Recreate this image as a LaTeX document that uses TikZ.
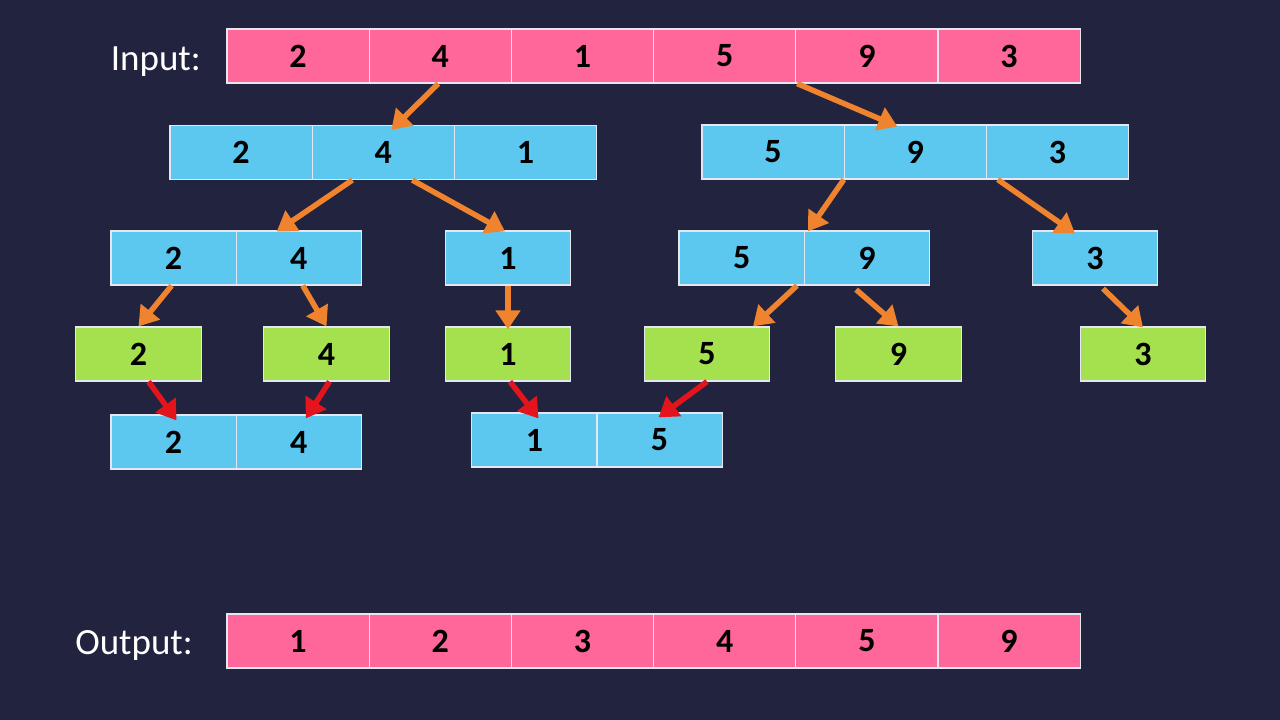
\documentclass[tikz,border=0pt]{standalone}
\usepackage{fontspec}
\setmainfont{Carlito}
\usetikzlibrary{arrows.meta}

\definecolor{msbg}{HTML}{22233F}
\definecolor{mspink}{HTML}{FF6699}
\definecolor{msblue}{HTML}{5CC8F0}
\definecolor{msgreen}{HTML}{A5E04F}
\definecolor{msorange}{HTML}{F0832E}
\definecolor{msred}{HTML}{E3141B}
\definecolor{msedge}{HTML}{E4E6F2}

\begin{document}
\begin{tikzpicture}[
  x=1pt, y=-1pt,
  cell/.style={
    draw=msedge,
    line width=1.2pt,
    inner sep=0pt,
    minimum height=54pt,
    text=black,
    font=\fontsize{34}{34}\selectfont\bfseries
  },
  widecell/.style={cell, minimum width=142.2pt},
  slimcell/.style={cell, minimum width=125.3pt},
  label/.style={
    anchor=east,
    inner sep=0pt,
    text=white,
    font=\fontsize{37}{37}\selectfont
  },
  split/.style={
    draw=msorange,
    line width=5.5pt,
    -{Triangle[length=19pt, width=24pt]}
  },
  merge/.style={split, draw=msred}
]

  \fill[msbg] (0,0) rectangle (1280,720);

  % --------------------------------------------------------------------
  % Input and output arrays
  % --------------------------------------------------------------------

  \node[label] (inlbl) at (201,62) {Input:};
  \node[label] (outlbl) at (193,645) {Output:};

  \foreach \v [count=\i] in {2,4,1,5,9,3}{
    \node[widecell, fill=mspink] (in\i) at ({298.1+142.2*(\i-1)},56) {\v};
  }

  \foreach \v [count=\i] in {1,2,3,4,5,9}{
    \node[widecell, fill=mspink] (out\i) at ({298.1+142.2*(\i-1)},641) {\v};
  }

  % --------------------------------------------------------------------
  % Split halves
  % --------------------------------------------------------------------

  \foreach \v [count=\i] in {2,4,1}{
    \node[widecell, fill=msblue] (lft\i) at ({241.1+142.2*(\i-1)},152.5) {\v};
  }

  \foreach \v [count=\i] in {5,9,3}{
    \node[widecell, fill=msblue] (rgt\i) at ({773.1+142.2*(\i-1)},152) {\v};
  }

  \node[slimcell, fill=msblue] (ll1) at (173.6,258) {2};
  \node[slimcell, fill=msblue] (ll2) at (298.8,258) {4};
  \node[slimcell, fill=msblue] (lr) at (508,258) {1};
  \node[slimcell, fill=msblue] (rl1) at (741.7,258) {5};
  \node[slimcell, fill=msblue] (rl2) at (867.1,258) {9};
  \node[slimcell, fill=msblue] (rr) at (1095,258) {3};

  % --------------------------------------------------------------------
  % Single elements
  % --------------------------------------------------------------------

  \foreach \x/\v in {138.5/2, 326.5/4, 508/1, 707/5, 898.5/9, 1143/3}{
    \node[slimcell, fill=msgreen] (leaf\v) at (\x,354) {\v};
  }

  % --------------------------------------------------------------------
  % Merged pairs
  % --------------------------------------------------------------------

  \node[slimcell, fill=msblue] (mrgA1) at (173.6,442) {2};
  \node[slimcell, fill=msblue] (mrgA2) at (298.8,442) {4};
  \node[slimcell, fill=msblue] (mrgB1) at (534.5,440) {1};
  \node[slimcell, fill=msblue] (mrgB2) at (659.6,440) {5};

  % --------------------------------------------------------------------
  % Split arrows
  % --------------------------------------------------------------------

  \draw[split] ([xshift=-2pt]in2.south) -- ([xshift=8pt,yshift=-5pt]lft2.north);
  \draw[split] ([xshift=2pt]in5.south west) -- ([xshift=-18pt,yshift=-2pt]rgt2.north);
  \draw[split] ([xshift=-31pt]lft2.south) -- ([xshift=-22pt,yshift=-1pt]ll2.north);
  \draw[split] ([xshift=29pt]lft2.south) -- ([xshift=-3pt,yshift=-1pt]lr.north);
  \draw[split] ([xshift=-1pt]rgt1.south east) -- ([xshift=3pt,yshift=-1pt]rl1.north east);
  \draw[split] ([xshift=12pt]rgt3.south west) -- ([xshift=-20pt,yshift=-3pt]rr.north);
  \draw[split] ([xshift=-2pt]ll1.south) -- (leaf2.north);
  \draw[split] ([xshift=4pt]ll2.south) -- (leaf4.north);
  \draw[split] (lr.south) -- ([yshift=-3pt]leaf1.north);
  \draw[split] ([xshift=-8pt]rl1.south east) -- ([xshift=46pt]leaf5.north);
  \draw[split] ([xshift=-11pt,yshift=-4pt]rl2.south) -- (leaf9.north);
  \draw[split] ([xshift=8pt,yshift=-3pt]rr.south) -- ([yshift=-1pt]leaf3.north);

  % --------------------------------------------------------------------
  % Merge arrows
  % --------------------------------------------------------------------

  \draw[merge] ([xshift=10pt]leaf2.south) -- ([xshift=3pt,yshift=-6pt]mrgA1.north);
  \draw[merge] ([xshift=3pt]leaf4.south) -- ([xshift=7pt,yshift=-4pt]mrgA2.north);
  \draw[merge] ([xshift=2pt]leaf1.south) -- ([xshift=4pt,yshift=-6pt]mrgB1.north);
  \draw[merge] (leaf5.south) -- ([xshift=-1pt,yshift=-5pt]mrgB2.north);

\end{tikzpicture}
\end{document}
